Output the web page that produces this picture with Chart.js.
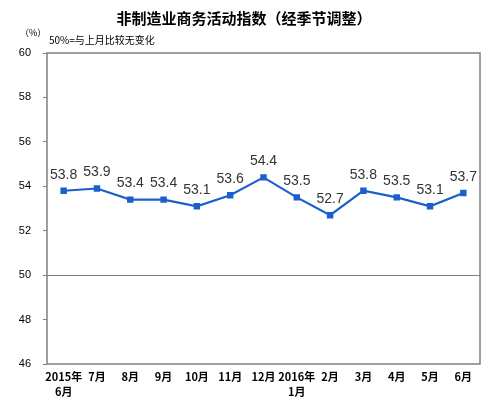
<!DOCTYPE html>
<html><head><meta charset="utf-8">
<script src="https://cdn.jsdelivr.net/npm/chart.js@4/dist/chart.umd.min.js"></script>
<style>html,body{margin:0;padding:0;background:#fff}#wrap{width:500px;height:399px}</style>
</head><body><div id="wrap"><canvas id="c" width="500" height="399"></canvas></div>
<script>
const categories = [["2015年","6月"],"7月","8月","9月","10月","11月","12月",["2016年","1月"],"2月","3月","4月","5月","6月"];
const values = [53.8,53.9,53.4,53.4,53.1,53.6,54.4,53.5,52.7,53.8,53.5,53.1,53.7];
const yTicks = [46,48,50,52,54,56,58,60];
const titleText = "非制造业商务活动指数（经季节调整）";
const unitText = "（%）";
const noteText = "50%=与上月比较无变化";

const deco = {
  id:'deco',
  afterDraw(chart){
    const ctx = chart.ctx, a = chart.chartArea, y = chart.scales.y;
    ctx.save();
    ctx.strokeStyle='#7f7f7f'; ctx.lineWidth=1;
    const y50 = Math.round(y.getPixelForValue(50))+0.5;
    ctx.beginPath(); ctx.moveTo(a.left,y50); ctx.lineTo(a.right,y50); ctx.stroke();
    ctx.strokeStyle='#808080'; ctx.lineWidth=1.5;
    ctx.strokeRect(a.left, a.top, a.right-a.left, a.bottom-a.top);
    ctx.fillStyle='#000';
    ctx.font='bold 15px "Noto Sans CJK SC"';
    ctx.textAlign='center'; ctx.textBaseline='middle';
    ctx.fillText(titleText, 244, 18);
    ctx.font='9px "Noto Sans CJK SC"';
    ctx.textAlign='left';
    ctx.fillText(unitText, 20, 33);
    ctx.font='10px "Noto Sans CJK SC"';
    ctx.fillText(noteText, 49, 40);
    ctx.font='14px "Liberation Sans", Arial';
    ctx.fillStyle='#333'; ctx.textAlign='center';
    const meta = chart.getDatasetMeta(0);
    meta.data.forEach((p,i)=>{ ctx.fillText(values[i].toFixed(1), p.x, p.y-16); });
    ctx.restore();
  }
};

new Chart(document.getElementById('c'),{
  type:'line',
  data:{labels:categories,datasets:[{data:values,borderColor:'#1a5fcc',backgroundColor:'#1a5fcc',borderWidth:2.2,pointStyle:'rect',pointRadius:3,tension:0}]},
  options:{
    responsive:false, animation:false,
    layout:{padding:{top:53,right:20,left:0,bottom:0}},
    plugins:{legend:{display:false},tooltip:{enabled:false},title:{display:false}},
    scales:{
      x:{offset:true,
        grid:{display:true,drawOnChartArea:false,drawTicks:false},
        border:{display:false},
        ticks:{color:'#000',font:{size:11,weight:'bold',family:'"Noto Sans CJK SC"',lineHeight:1.3},padding:6,maxRotation:0,autoSkip:false},
        afterFit(s){s.height=35;}
      },
      y:{min:46,max:60,
        afterBuildTicks(s){s.ticks=yTicks.map(v=>({value:v}));},
        grid:{display:true,drawOnChartArea:false,tickLength:4,color:'#808080'},
        border:{display:false},
        ticks:{color:'#000',font:{size:11,family:'"Liberation Sans", Arial'},padding:12},
        afterFit(s){s.width=47;}
      }
    }
  },
  plugins:[deco]
});
</script></body></html>
